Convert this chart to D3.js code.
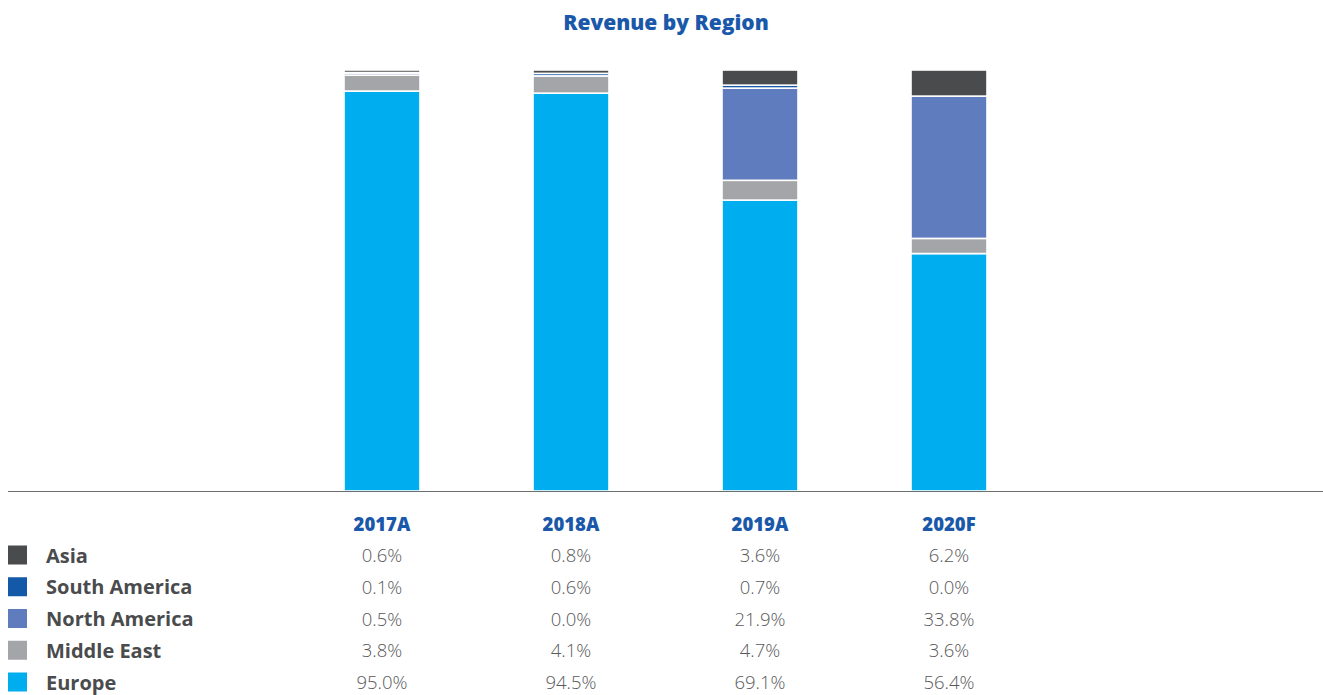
<!DOCTYPE html>
<html>
<head>
<meta charset="utf-8">
<script src="https://cdn.jsdelivr.net/npm/d3@7"></script>
<style>
  body { margin: 0; background: #fff; }
  text { font-family: "Open Sans", Lato, sans-serif; }
</style>
</head>
<body>
<div id="chart"></div>
<script>
// data
const years = ["2017A", "2018A", "2019A", "2020F"];
const regions = ["Asia", "South America", "North America", "Middle East", "Europe"];
const asia = [0.6, 0.8, 3.6, 6.2];
const southAmerica = [0.1, 0.6, 0.7, 0.0];
const northAmerica = [0.5, 0.0, 21.9, 33.8];
const middleEast = [3.8, 4.1, 4.7, 3.6];
const europe = [95.0, 94.5, 69.1, 56.4];
const regionColors = ["#4a4b4d", "#1458a8", "#5f7cbf", "#a4a5a9", "#00aeef"];

const seriesByRegion = {
    "Asia": asia,
    "South America": southAmerica,
    "North America": northAmerica,
    "Middle East": middleEast,
    "Europe": europe
};

const W = 1323, H = 695;

const svg = d3.select("#chart").append("svg")
    .attr("width", W)
    .attr("height", H);

// title
svg.append("text")
    .attr("x", 666)
    .attr("y", 30)
    .attr("text-anchor", "middle")
    .attr("font-size", 21)
    .attr("font-weight", 800)
    .attr("fill", "#1a58aa")
    .text("Revenue by Region");

// scales
const x = d3.scaleBand()
    .domain(years)
    .range([287.5, 1043.5])
    .paddingInner(0.598)
    .paddingOuter(0.299);

const y = d3.scaleLinear()
    .domain([0, 100])
    .range([491, 70]);

// stack: Europe at bottom, Asia on top
const table = years.map((yr, i) => {
    let row = {year: yr};
    regions.forEach(r => row[r] = seriesByRegion[r][i]);
    return row;
});
const stackOrder = regions.slice().reverse();
const stacked = d3.stack().keys(stackOrder)(table);
const color = d3.scaleOrdinal().domain(regions).range(regionColors);

svg.append("g").selectAll("g")
    .data(stacked)
    .join("g")
    .attr("fill", d => color(d.key))
    .selectAll("rect")
    .data(d => d.filter(s => s[1] - s[0] > 0))
    .join("rect")
    .attr("x", d => x(d.data.year))
    .attr("width", x.bandwidth())
    .attr("y", d => y(d[1]))
    .attr("height", d => y(d[0]) - y(d[1]))
    .attr("stroke", "#fff")
    .attr("stroke-width", 1.6);

// baseline
svg.append("line")
    .attr("x1", 8)
    .attr("x2", W)
    .attr("y1", y(0) + 0.5)
    .attr("y2", y(0) + 0.5)
    .attr("stroke", "#6d6e70")
    .attr("stroke-width", 1.2);

// table headers
svg.append("g").selectAll("text")
    .data(years)
    .join("text")
    .attr("x", d => x(d) + x.bandwidth() / 2)
    .attr("y", 531)
    .attr("text-anchor", "middle")
    .attr("font-size", 18.5)
    .attr("font-weight", 800)
    .attr("fill", "#1a58aa")
    .text(d => d);

// table rows
const rowY = d3.scalePoint()
    .domain(regions)
    .range([555, 682]);

const rows = svg.append("g").selectAll("g")
    .data(regions)
    .join("g")
    .attr("transform", d => `translate(0,${rowY(d)})`);

rows.append("rect")
    .attr("x", 8)
    .attr("y", -9.5)
    .attr("width", 19)
    .attr("height", 19)
    .attr("fill", d => color(d));

rows.append("text")
    .attr("x", 46)
    .attr("y", 7.5)
    .attr("font-size", 20)
    .attr("font-weight", 700)
    .attr("fill", "#4a4b4d")
    .text(d => d);

rows.selectAll(".val")
    .data(r => seriesByRegion[r].map((v, i) => ({year: years[i], v})))
    .join("text")
    .attr("class", "val")
    .attr("x", d => x(d.year) + x.bandwidth() / 2)
    .attr("y", 7)
    .attr("text-anchor", "middle")
    .attr("font-size", 18.5)
    .attr("font-weight", 300)
    .attr("fill", "#58595b")
    .text(d => d3.format(".1f")(d.v) + "%");
</script>
</body>
</html>
